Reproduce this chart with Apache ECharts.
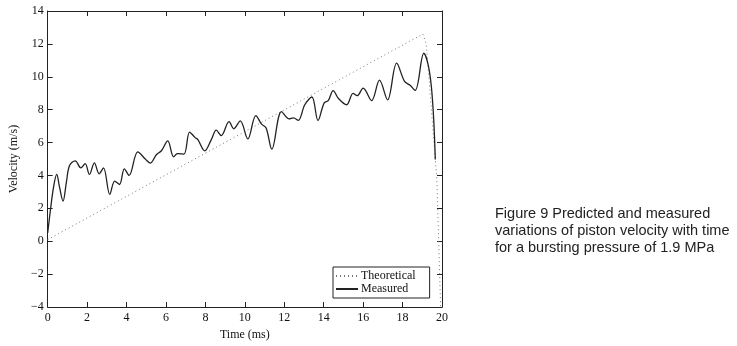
<!DOCTYPE html>
<html>
<head>
<meta charset="utf-8">
<script src="https://cdn.jsdelivr.net/npm/echarts@6/dist/echarts.min.js"></script>
<style>
  html, body { margin: 0; padding: 0; background: #fff; }
  #chart { width: 737px; height: 346px; }
</style>
</head>
<body>
<div id="chart"></div>
<script>
// time (ms), velocity (m/s)
var theoretical = [
    [0, 0.1], [19.03, 12.6], [19.2, 12.0], [19.74, 3.76], [19.93, -4]
];
var measured = [
    [0, 0.5], [0.13, 1.8], [0.3, 3.3], [0.46, 4.06], [0.6, 3.3], [0.78, 2.44],
    [0.95, 3.6], [1.11, 4.6], [1.4, 4.89], [1.68, 4.46], [1.9, 4.72], [2.12, 4.06],
    [2.37, 4.77], [2.61, 4.1], [2.83, 4.46], [3.15, 2.85], [3.4, 3.66], [3.64, 3.45],
    [3.89, 4.4], [4.13, 4.0], [4.57, 5.43], [4.95, 5.0], [5.2, 4.75], [5.52, 5.27],
    [5.77, 5.5], [6.09, 6.1], [6.39, 5.13], [6.58, 5.33], [6.91, 5.3], [7.2, 6.64],
    [7.48, 6.3], [7.61, 6.2], [7.97, 5.5], [8.3, 6.18], [8.55, 6.75], [8.8, 6.42],
    [9.2, 7.27], [9.44, 6.84], [9.77, 7.32], [10.15, 6.22], [10.56, 7.64], [10.85, 7.12],
    [11.08, 6.89], [11.37, 5.6], [11.86, 7.88], [12.25, 7.44], [12.47, 7.5], [12.71, 7.35],
    [13.04, 8.3], [13.4, 8.77], [13.71, 7.34], [14.02, 8.4], [14.24, 8.57], [14.48, 9.16],
    [14.75, 8.68], [15.16, 8.3], [15.49, 8.99], [15.7, 8.85], [16.0, 9.31], [16.43, 8.55],
    [16.83, 9.8], [17.24, 8.6], [17.7, 10.83], [18.1, 9.72], [18.38, 9.48], [18.64, 9.17],
    [19.08, 11.43], [19.3, 10.73], [19.46, 9.41], [19.58, 7.39], [19.66, 4.97]
];
var seriesNames = ['Theoretical', 'Measured'];
var captionLines = [
    'Figure 9 Predicted and measured',
    'variations of piston velocity with time',
    'for a bursting pressure of 1.9 MPa'
];

var serif = '"Liberation Serif", "DejaVu Serif", serif';
var axisLine = { show: true, onZero: false, lineStyle: { color: '#222', width: 1 } };
var ticks = { show: true, inside: true, length: 5, lineStyle: { color: '#222' } };

var option = {
    backgroundColor: '#fff',
    animation: false,
    grid: { left: 34, right: 295, top: 11, bottom: 38 },
    legend: {
        left: 333, top: 267,
        orient: 'vertical',
        data: seriesNames,
        itemWidth: 22, itemHeight: 10, itemGap: 1,
        padding: [3, 14, 3, 2],
        borderColor: '#222', borderWidth: 1,
        backgroundColor: '#fff',
        itemStyle: { opacity: 0 },
        textStyle: { fontFamily: serif, fontSize: 12, color: '#111', padding: [0, 0, 0, -2] }
    },
    xAxis: [
        {
            type: 'value', min: 0, max: 20, interval: 2,
            name: 'Time (ms)', nameLocation: 'middle', nameGap: 22,
            nameTextStyle: { fontFamily: serif, fontSize: 12, color: '#111' },
            axisLine: axisLine, axisTick: ticks, splitLine: { show: false },
            axisLabel: { fontFamily: serif, fontSize: 12, color: '#111', margin: 5 }
        },
        {
            type: 'value', min: 0, max: 20, interval: 2, position: 'top',
            axisLine: axisLine, axisTick: ticks, splitLine: { show: false },
            axisLabel: { show: false }
        }
    ],
    yAxis: [
        {
            type: 'value', min: -4, max: 14, interval: 2,
            name: 'Velocity (m/s)', nameLocation: 'middle', nameGap: 21,
            nameTextStyle: { fontFamily: serif, fontSize: 12, color: '#111' },
            axisLine: axisLine, axisTick: ticks, splitLine: { show: false },
            axisLabel: {
                fontFamily: serif, fontSize: 12, color: '#111', margin: 4,
                formatter: function (v) { return String(v).replace('-', '\u2212'); }
            }
        },
        {
            type: 'value', min: -4, max: 14, interval: 2, position: 'right',
            axisLine: axisLine, axisTick: ticks, splitLine: { show: false },
            axisLabel: { show: false }
        }
    ],
    graphic: [
        {
            type: 'text', left: 495, top: 205,
            style: {
                text: captionLines.join('\n'),
                font: '14.5px "Liberation Sans", Arial, sans-serif',
                lineHeight: 17,
                fill: '#222'
            }
        }
    ],
    series: [
        {
            name: seriesNames[0], type: 'line', data: theoretical,
            symbol: 'none',
            lineStyle: { color: '#777', width: 1, type: [1, 3] },
            itemStyle: { color: '#777' }
        },
        {
            name: seriesNames[1], type: 'line', data: measured,
            symbol: 'none', smooth: 0.35,
            lineStyle: { color: '#222', width: 1.3 },
            itemStyle: { color: '#222' }
        }
    ]
};

echarts.init(document.getElementById('chart')).setOption(option);
</script>
</body>
</html>
